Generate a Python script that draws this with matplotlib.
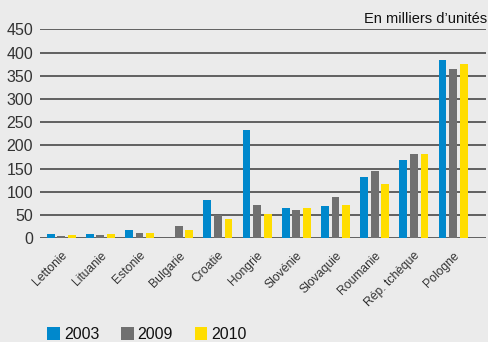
import matplotlib.pyplot as plt
from matplotlib.patches import Patch
import numpy as np

plt.rcParams['font.family'] = ['Liberation Sans', 'DejaVu Sans']

# data (thousands of units)
pays = ["Lettonie", "Lituanie", "Estonie", "Bulgarie", "Croatie", "Hongrie",
        "Slovénie", "Slovaquie", "Roumanie", "Rép. tchèque", "Pologne"]
v2003 = [9, 9, 18, 0, 82, 233, 65, 69, 132, 168, 384]
v2009 = [5, 7, 11, 26, 50, 71, 61, 89, 145, 182, 365]
v2010 = [7, 9, 11, 18, 41, 52, 65, 71, 117, 182, 376]
annees = ["2003", "2009", "2010"]
couleurs = ["#0088cc", "#707070", "#ffdd00"]
yticks = [0, 50, 100, 150, 200, 250, 300, 350, 400, 450]

bg = "#ebebeb"
txt = "#333333"

fig = plt.figure(figsize=(4.89, 3.42), dpi=100, facecolor=bg)
ax = fig.add_axes([0.0818, 0.3032, 0.9121, 0.6111], facecolor=bg)

x = np.arange(len(pays))
w = 0.2
off = 0.27
for i, (vals, c) in enumerate(zip([v2003, v2009, v2010], couleurs)):
    ax.bar(x + (i - 1) * off, vals, w, color=c, zorder=3)

# horizontal rules
for t in yticks:
    ax.axhline(t, color="#3a3a3a", lw=1.1, zorder=1)

ax.set_xlim(-0.54, 10.84)
ax.set_ylim(0, 450)
ax.set_yticks(yticks)
ax.set_yticklabels([str(t) for t in yticks], fontsize=11.5, color=txt)
ax.tick_params(axis="y", length=0, pad=5)
ax.set_xticks(x)
ax.set_xticklabels(pays, rotation=45, ha="right", rotation_mode="anchor",
                   fontsize=8.7, color=txt)
ax.tick_params(axis="x", length=0, pad=8)
for s in ax.spines.values():
    s.set_visible(False)

fig.text(0.996, 0.945, "En milliers d\u2019unités", ha="right", va="center",
         fontsize=10.5, color="#111111")

handles = [Patch(facecolor=c, edgecolor="none") for c in couleurs]
fig.legend(handles, annees, loc="center left", bbox_to_anchor=(0.08, 0.022),
           ncol=3, frameon=False, fontsize=11.5, handlelength=0.8, handleheight=0.8,
           handletextpad=0.25, columnspacing=1.35, borderpad=0, labelcolor="#111111")

fig.savefig("out.png", dpi=100, facecolor=bg)
